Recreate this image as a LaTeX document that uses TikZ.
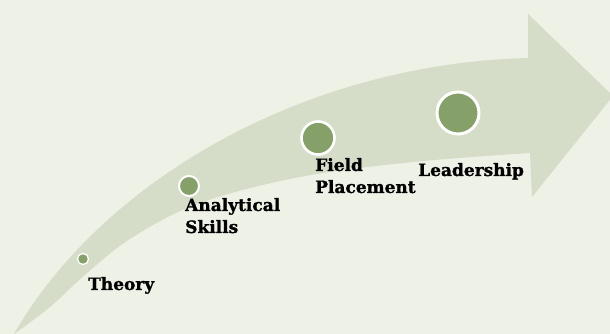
\documentclass[tikz,border=0pt]{standalone}
\usepackage{fontspec}
\setmainfont{DejaVu Serif}
\newfontface\lblfont{DejaVu Serif Bold}[FakeBold=1.2]
\definecolor{bgc}{HTML}{EEF1E6}
\definecolor{arrowc}{HTML}{D5DCC8}
\definecolor{dotc}{HTML}{86A06A}
\begin{document}
\begin{tikzpicture}[x=1pt,y=1pt,
  dot/.style={circle,fill=dotc,draw=white,inner sep=0pt},
  lbl/.style={font=\lblfont\fontsize{17}{22}\selectfont,align=left,inner sep=0pt,anchor=base west,text=black}]
\fill[bgc] (0,0) rectangle (610,334);
\useasboundingbox (0,0) rectangle (610,334);
% arrow
\fill[arrowc] (14,0) .. controls (100,150) and (300,270) .. (528,276)
  -- (528,320) -- (613,238) -- (532,137) -- (530,181)
  -- plot[smooth,tension=0.6] coordinates {(530,181) (413,172) (300,157) (200,131) (133,97) (87,61) (50,27) (14,0)} -- cycle;
% dots
\node[dot,minimum size=11pt,line width=1.3pt] (d1) at (83,75) {};
\node[dot,minimum size=20pt,line width=2pt] (d2) at (189,148) {};
\node[dot,minimum size=33pt,line width=2.6pt] (d3) at (318,196) {};
\node[dot,minimum size=42pt,line width=3pt] (d4) at (458,221) {};
% labels
\node[lbl] (t1) at (88,44) {Theory};
\node[lbl] (t2) at (185,101) {Analytical\\Skills};
\node[lbl] (t3) at (315,141) {Field\\Placement};
\node[lbl] (t4) at (418,158) {Leadership};
\end{tikzpicture}
\end{document}
